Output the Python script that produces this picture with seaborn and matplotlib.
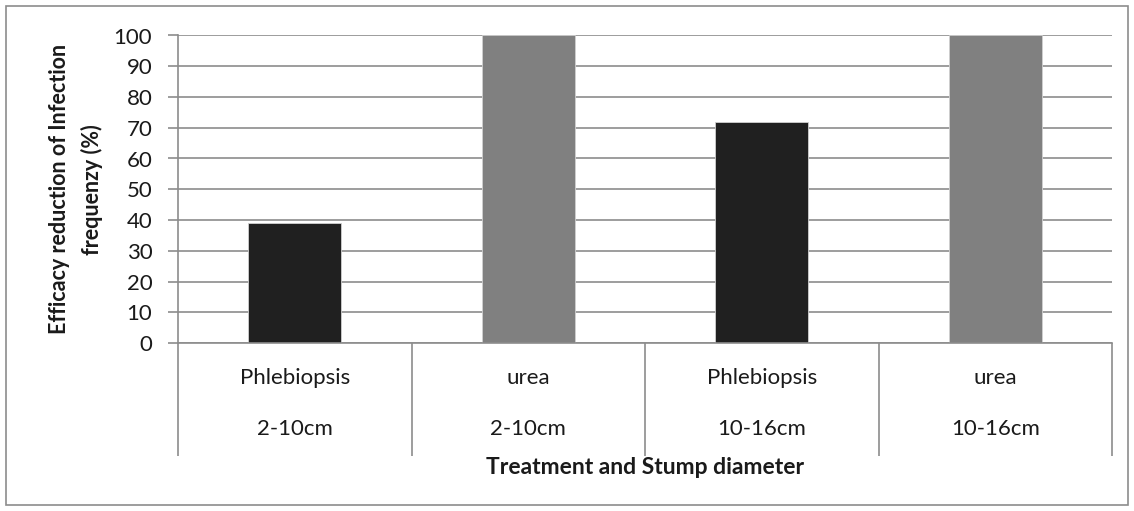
import matplotlib
matplotlib.use("Agg")
import matplotlib.pyplot as plt
import seaborn as sns
import pandas as pd
from matplotlib.patches import Rectangle

treatments = ["Phlebiopsis", "urea", "Phlebiopsis", "urea"]
diameters = ["2-10cm", "2-10cm", "10-16cm", "10-16cm"]
efficacy = [39, 100, 72, 100]
bar_colors = ["#202020", "#808080", "#202020", "#808080"]

labels = [f"{t}\n\n{d}" for t, d in zip(treatments, diameters)]
df = pd.DataFrame({"label": labels, "efficacy": efficacy})

sns.set_style("white")
plt.rcParams["font.family"] = ["Lato", "DejaVu Sans"]

fig = plt.figure(figsize=(11.34, 5.11), dpi=100)
ax = fig.add_axes([178/1134, 1 - 343/511, (1112-178)/1134, (343-35.5)/511])

sns.barplot(data=df, x="label", y="efficacy", hue="label", palette=bar_colors,
            legend=False, width=0.4, ax=ax, saturation=1, edgecolor="#d0d0d0", linewidth=0.6)

ax.set_ylim(0, 100)
ax.set_xlim(-0.5, 3.5)
ax.set_yticks(range(0, 101, 10))
ax.yaxis.grid(True, color="#8c8c8c", linewidth=1.2)
ax.set_axisbelow(True)
for s in ["top", "right"]:
    ax.spines[s].set_visible(False)
for s in ["left", "bottom"]:
    ax.spines[s].set_color("#8c8c8c")
    ax.spines[s].set_linewidth(1.2)

ax.tick_params(axis="y", which="major", left=True, length=7.5, color="#8c8c8c", width=1.2,
               labelsize=16, labelcolor="#1a1a1a", pad=11)
ax.tick_params(axis="x", which="major", bottom=True, length=0, labelsize=16,
               labelcolor="#1a1a1a", pad=18)
for lab in ax.get_xticklabels():
    lab.set_linespacing(1.35)
ax.set_xticks([-0.5, 0.5, 1.5, 2.5, 3.5], minor=True)
ax.tick_params(axis="x", which="minor", bottom=True, length=81, color="#8c8c8c",
               width=1.2, direction="out")

ax.set_xlabel("Treatment and Stump diameter", fontsize=16.5, fontweight="bold",
              color="#1a1a1a", labelpad=-2)
ylab = ax.set_ylabel("Efficacy reduction of Infection\nfrequenzy (%)", fontsize=15.5,
                     fontweight="bold", color="#1a1a1a", labelpad=7.5)
ylab.set_linespacing(1.6)

fig.patches.append(Rectangle((6/1134, 6/511), 1 - 12/1134, 1 - 12/511,
                             transform=fig.transFigure, fill=False,
                             edgecolor="#8c8c8c", linewidth=1.2))

fig.savefig("out.png", dpi=100)
